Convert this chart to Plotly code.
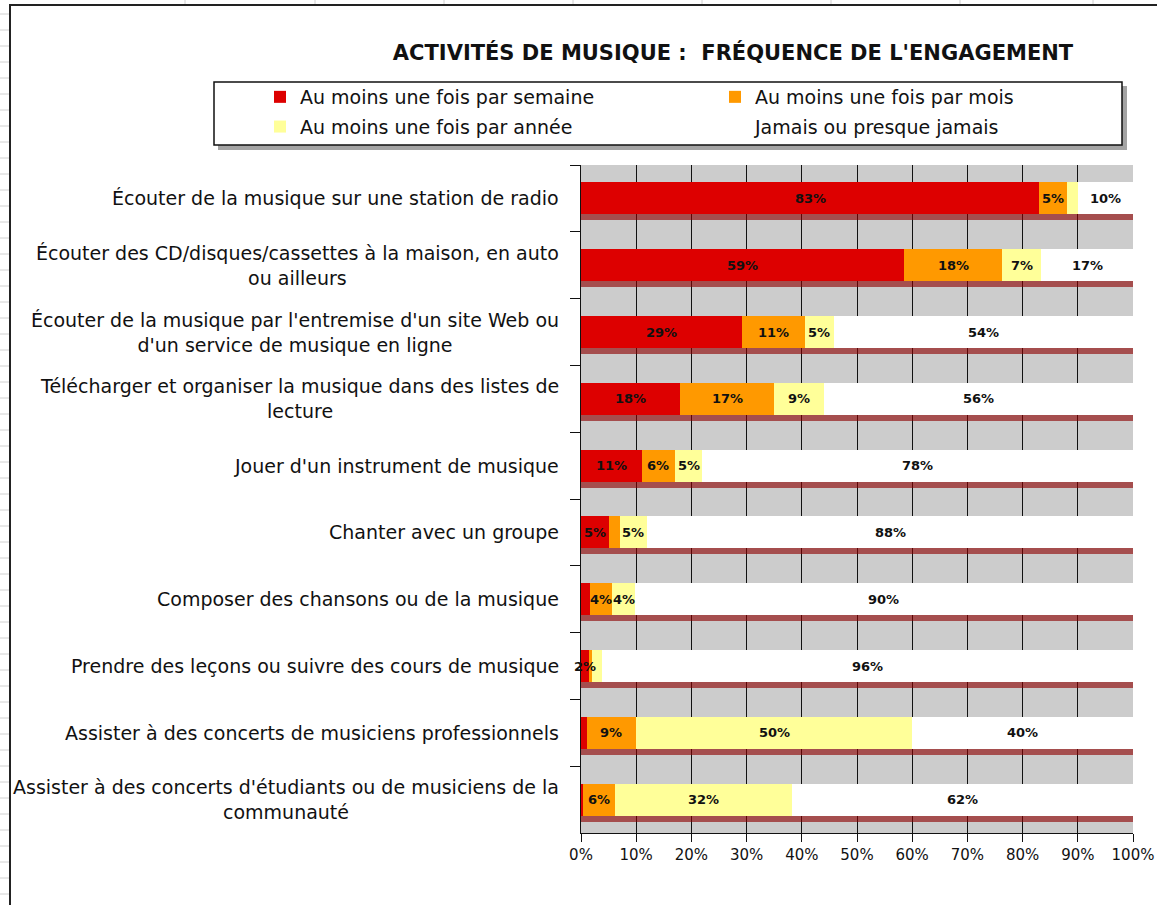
import plotly.graph_objects as go

# ---------------- data ----------------
categories = [
    "Écouter de la musique sur une station de radio",
    "Écouter des CD/disques/cassettes à la maison, en auto<br>ou ailleurs",
    "Écouter de la musique par l'entremise d'un site Web ou<br>d'un service de musique en ligne",
    "Télécharger et organiser la musique dans des listes de<br>lecture",
    "Jouer d'un instrument de musique",
    "Chanter avec un groupe",
    "Composer des chansons ou de la musique",
    "Prendre des leçons ou suivre des cours de musique",
    "Assister à des concerts de musiciens professionnels",
    "Assister à des concerts d'étudiants ou de musiciens de la<br>communauté",
]
series_names = [
    "Au moins une fois par semaine",
    "Au moins une fois par mois",
    "Au moins une fois par année",
    "Jamais ou presque jamais",
]
semaine = [83, 58.6, 29.2, 18, 11, 5, 1.6, 1.5, 1, 0.4]
mois = [5, 17.6, 11.3, 17, 6, 2, 4.1, 0.5, 9, 5.8]
annee = [2, 7.2, 5.3, 9, 5, 5, 4.0, 1.8, 50, 32]
jamais = [10, 16.6, 54.2, 56, 78, 88, 90.3, 96.2, 40, 61.8]
# which value labels are displayed on the bars
show_semaine = [1, 1, 1, 1, 1, 1, 0, 1, 0, 0]
show_mois = [1, 1, 1, 1, 1, 0, 1, 0, 1, 1]
show_annee = [0, 1, 1, 1, 1, 1, 1, 0, 1, 1]
show_jamais = [1, 1, 1, 1, 1, 1, 1, 1, 1, 1]
x_ticks = [0, 10, 20, 30, 40, 50, 60, 70, 80, 90, 100]
x_ticktext = ["0%", "10%", "20%", "30%", "40%", "50%", "60%", "70%", "80%", "90%", "100%"]

values = [semaine, mois, annee, jamais]
shows = [show_semaine, show_mois, show_annee, show_jamais]
colors = ["#DD0000", "#FF9900", "#FFFF99", "#FFFFFF"]
totals = [sum(v) for v in zip(*values)]

# ---------------- geometry helpers ----------------
W, H = 1157, 905
L, R, T, B = 581, 24, 165, 72
PW, PH = W - L - R, H - T - B


def px2x(px):
    return (px - L) / PW


def py2y(py):
    return (H - B - py) / PH


FONT = "DejaVu Sans"
ncat = len(categories)
shift = 0.09  # shadow offset in category units

fig = go.Figure()

# shadow (base subplot, drawn under the bars)
fig.add_trace(go.Bar(
    y=categories, x=totals, orientation="h", width=0.48,
    marker=dict(color="rgba(140,0,0,0.62)", line=dict(width=0)),
    showlegend=False, hoverinfo="skip", xaxis="x", yaxis="y",
))

legend_ids = ["legend", "legend2", "legend", "legend2"]
for name, vals, col, lg in zip(series_names, values, colors, legend_ids):
    fig.add_trace(go.Bar(
        y=categories, x=vals, name=name, orientation="h", width=0.48,
        marker=dict(color=col, line=dict(width=0)),
        legend=lg, legendgroup=name,
        hoverinfo="skip", xaxis="x", yaxis="y2",
    ))

annotations = []
# value labels, centered on each stacked segment (drawn above all bars)
for i, c in enumerate(categories):
    start = 0.0
    for vals, shw in zip(values, shows):
        v = vals[i]
        if shw[i]:
            annotations.append(dict(
                x=start + v / 2, xref="x", y=c, yref="y2",
                xanchor="center", yanchor="middle",
                text=f"{int(v + 0.5)}%", showarrow=False,
                font=dict(family=FONT, size=13, color="#111111", weight="bold"),
            ))
        start += v

# category labels (centered multi-line, right-anchored next to axis)
for c in categories:
    annotations.append(dict(
        x=px2x(561), xref="paper", xanchor="right",
        y=c, yref="y2", yanchor="middle",
        text=c, showarrow=False, align="center",
        font=dict(family=FONT, size=19, color="#111111"),
    ))

shapes = []
# spreadsheet gridlines behind the chart
for gx in [185, 315, 444, 573, 702, 831, 960, 1093]:
    shapes.append(dict(type="line", xref="paper", yref="paper",
                       x0=px2x(gx), x1=px2x(gx), y0=py2y(0), y1=py2y(5),
                       line=dict(color="#d0d0d0", width=1)))
gy = 14
while gy < H:
    shapes.append(dict(type="line", xref="paper", yref="paper",
                       x0=px2x(0), x1=px2x(9), y0=py2y(gy), y1=py2y(gy),
                       line=dict(color="#d0d0d0", width=1)))
    gy += 16
# chart outer border
shapes.append(dict(type="rect", xref="paper", yref="paper",
                   x0=px2x(10), x1=px2x(1175), y0=py2y(5), y1=py2y(925),
                   line=dict(color="#222222", width=2), fillcolor="rgba(0,0,0,0)"))
# legend box with shadow
shapes.append(dict(type="rect", xref="paper", yref="paper",
                   x0=px2x(218), x1=px2x(1127), y0=py2y(86), y1=py2y(150),
                   line=dict(width=0), fillcolor="rgba(90,90,90,0.55)"))
shapes.append(dict(type="rect", xref="paper", yref="paper",
                   x0=px2x(214), x1=px2x(1122), y0=py2y(82), y1=py2y(145),
                   line=dict(color="#111111", width=1.5), fillcolor="white"))

legend_common = dict(
    orientation="v", xref="container", yref="container",
    xanchor="left", yanchor="top", bgcolor="rgba(0,0,0,0)",
    borderwidth=0, traceorder="grouped", tracegroupgap=2,
    font=dict(family=FONT, size=19, color="#111111"),
    itemclick=False, itemdoubleclick=False,
)

fig.update_layout(
    width=W, height=H,
    margin=dict(l=L, r=R, t=T, b=B, pad=0, autoexpand=False),
    paper_bgcolor="white",
    plot_bgcolor="#CCCCCC",
    barmode="stack",
    title=dict(
        text="<b>ACTIVITÉS DE MUSIQUE :  FRÉQUENCE DE L'ENGAGEMENT</b>",
        x=733 / W, xanchor="center", xref="container",
        y=1 - 53 / H, yanchor="middle", yref="container",
        font=dict(family=FONT, size=21, color="#111111"),
    ),
    xaxis=dict(
        range=[0, 100], tickvals=x_ticks, ticktext=x_ticktext,
        showgrid=True, gridcolor="#111111", gridwidth=1,
        ticks="outside", ticklen=8, tickcolor="#111111",
        showline=True, linecolor="#111111", linewidth=1,
        zeroline=False, fixedrange=True,
        tickfont=dict(family=FONT, size=15, color="#111111"),
    ),
    yaxis=dict(
        type="category", categoryorder="array", categoryarray=categories,
        range=[ncat - 0.5 - shift, -0.5 - shift],
        visible=False, showgrid=False, fixedrange=True,
    ),
    yaxis2=dict(
        type="category", categoryorder="array", categoryarray=categories,
        range=[ncat - 0.5, -0.5], overlaying="y", side="left",
        showticklabels=False, ticks="outside", ticklen=10, tickcolor="#111111",
        tickson="boundaries", showline=True, linecolor="#111111", linewidth=1,
        showgrid=False, zeroline=False, fixedrange=True,
    ),
    legend=dict(x=260 / W, y=1 - 78 / H, **legend_common),
    legend2=dict(x=715 / W, y=1 - 78 / H, **legend_common),
    annotations=annotations,
    shapes=shapes,
    showlegend=True,
)

fig.write_html("out.html", config={"displayModeBar": False},
               post_script="document.body.style.margin='0';")
